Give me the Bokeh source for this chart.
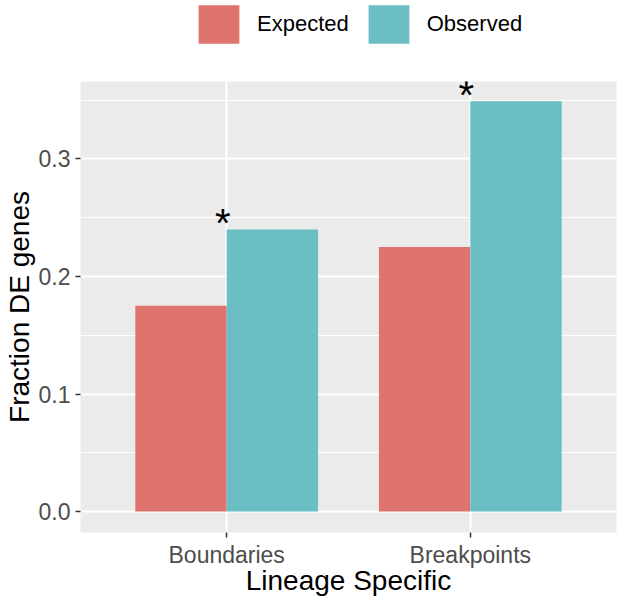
from bokeh.plotting import figure
from bokeh.layouts import column
from bokeh.models import (ColumnDataSource, FactorRange, Range1d, FixedTicker,
                          NumeralTickFormatter, Legend, LegendItem)
from bokeh.transform import dodge
from bokeh.core.properties import value
from bokeh.embed import file_html
from bokeh.resources import INLINE

categories = ["Boundaries", "Breakpoints"]
expected = [0.175, 0.225]
observed = [0.240, 0.349]
significance = ["*", "*"]
series_names = ["Expected", "Observed"]
y_ticks = [0.0, 0.1, 0.2, 0.3]
y_minor_ticks = [0.05, 0.15, 0.25, 0.35]
colors = ["#DF736D", "#6BBEC3"]

FONT = "Liberation Sans"

source = ColumnDataSource(dict(cat=categories, expected=expected,
                               observed=observed, sig=significance))

# ---- main plot ----
p = figure(x_range=FactorRange(*categories, range_padding=0.1),
           y_range=Range1d(-0.0178, 0.3658),
           width=621, height=517,
           min_border_left=76, min_border_right=5,
           min_border_top=0, min_border_bottom=60,
           output_backend="svg", toolbar_location=None)

p.background_fill_color = "#EBEBEB"
p.border_fill_color = "white"
p.outline_line_color = None

bw = 0.375
r1 = p.vbar(x=dodge("cat", -bw / 2, range=p.x_range), top="expected", bottom=0,
            width=bw, source=source, fill_color=colors[0], line_color=None)
r2 = p.vbar(x=dodge("cat", bw / 2, range=p.x_range), top="observed", bottom=0,
            width=bw, source=source, fill_color=colors[1], line_color=None)

p.text(x="cat", y="observed", text="sig", source=source, x_offset=-4, y_offset=-6,
       text_align="center", text_baseline="alphabetic", text_font=value(FONT),
       text_font_size="40px", text_color="black")

# grids
p.ygrid.ticker = FixedTicker(ticks=y_ticks, minor_ticks=y_minor_ticks)
p.ygrid.grid_line_color = "white"
p.ygrid.grid_line_width = 2
p.ygrid.minor_grid_line_color = "white"
p.ygrid.minor_grid_line_width = 1
p.xgrid.grid_line_color = "white"
p.xgrid.grid_line_width = 2

# axes
p.yaxis.ticker = FixedTicker(ticks=y_ticks, minor_ticks=y_minor_ticks)
p.yaxis.formatter = NumeralTickFormatter(format="0.0")
for ax in (p.xaxis[0], p.yaxis[0]):
    ax.axis_line_color = None
    ax.major_tick_line_color = "#333333"
    ax.major_tick_line_width = 1.5
    ax.major_tick_out = 5
    ax.major_tick_in = 0
    ax.minor_tick_out = 0
    ax.minor_tick_in = 0
    ax.major_label_text_font = FONT
    ax.major_label_text_font_size = "23px"
    ax.major_label_text_color = "#4D4D4D"
    ax.axis_label_text_font = FONT
    ax.axis_label_text_font_size = "28px"
    ax.axis_label_text_font_style = "normal"
    ax.axis_label_text_color = "black"
p.xaxis.major_label_standoff = 4
p.xaxis.axis_label_standoff = -6
p.yaxis.major_label_standoff = 5
p.yaxis.axis_label_standoff = 1
p.xaxis.axis_label = "Lineage Specific"
p.yaxis.axis_label = "Fraction DE genes"

# ---- legend strip above the plot (key glyphs drawn out of its view) ----
lg = figure(width=621, height=81, x_range=FactorRange(*categories),
            y_range=Range1d(10, 11),
            x_axis_type=None, y_axis_type=None,
            min_border_left=0, min_border_right=0, min_border_top=0, min_border_bottom=0,
            output_backend="svg", toolbar_location=None)
lg.outline_line_color = None
lg.xgrid.visible = False
lg.ygrid.visible = False
lg.background_fill_color = "white"
lg.border_fill_color = "white"
k1 = lg.vbar(x="cat", top="expected", bottom=0, width=0.3, source=source,
             fill_color=colors[0], line_color=None)
k2 = lg.vbar(x="cat", top="observed", bottom=0, width=0.3, source=source,
             fill_color=colors[1], line_color=None)

legend = Legend(items=[LegendItem(label=series_names[0], renderers=[k1]),
                       LegendItem(label=series_names[1], renderers=[k2])],
                orientation="horizontal", location=(113, 33),
                glyph_width=51, glyph_height=48, label_standoff=13, spacing=14,
                padding=0, margin=0, border_line_color=None,
                background_fill_alpha=0, label_text_font=FONT,
                label_text_font_size="22px", label_text_color="black")
lg.add_layout(legend, "center")

layout = column(lg, p, spacing=0)
open("out.html", "w").write(file_html(layout, INLINE))
